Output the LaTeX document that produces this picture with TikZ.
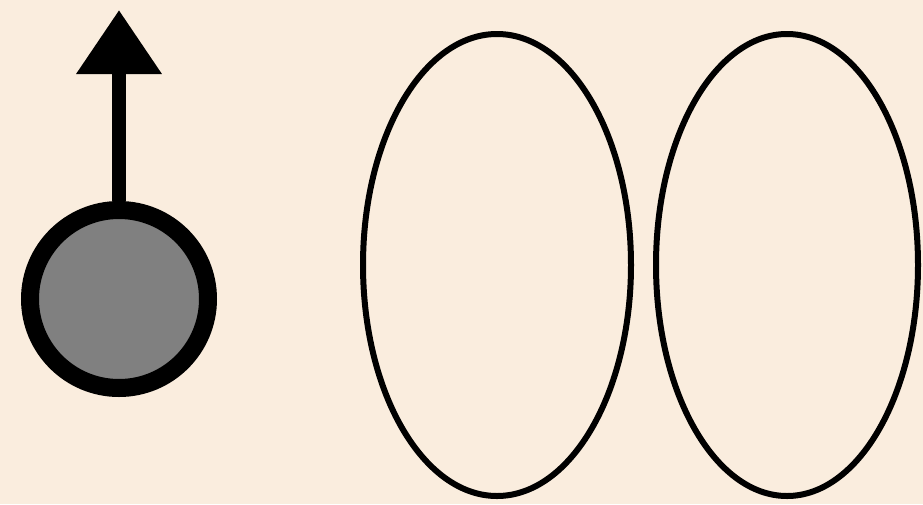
\documentclass[tikz,border=0pt]{standalone}
\usetikzlibrary{shapes.geometric,arrows.meta}
\definecolor{paper}{RGB}{250,237,222}
\definecolor{ballgray}{RGB}{128,128,128}
\tikzset{
  loop/.style={draw=black, line width=6pt, ellipse, inner sep=0pt, minimum width=#1, minimum height=462pt},
  ball/.style={circle, draw=black, fill=ballgray, line width=18pt, minimum size=178pt, inner sep=0pt},
  push/.style={draw=black, line width=14pt, -{Triangle[width=82pt,length=64pt]}}
}
\begin{document}
\begin{tikzpicture}[x=1pt,y=-1pt]
  \fill[paper] (0,0) rectangle (923,504);
  \useasboundingbox (0,0) rectangle (923,504);
  \node[ball] (b) at (119,299) {};
  \coordinate (tip) at (119,10);
  \draw[push] (b.north) -- (tip);
  \node[loop=268pt] (e1) at (497,265) {};
  \node[loop=262pt] (e2) at (787,265) {};
\end{tikzpicture}
\end{document}
